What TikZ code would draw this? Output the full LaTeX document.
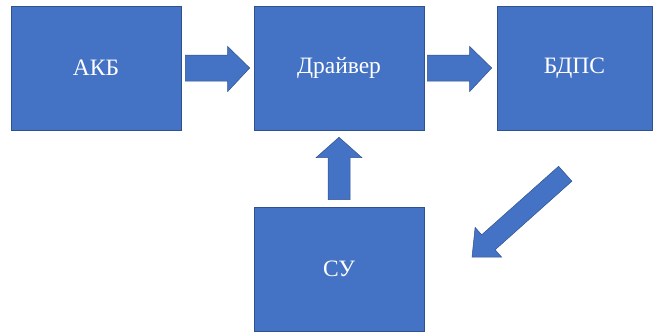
\documentclass[tikz,border=0pt]{standalone}
\usepackage{fontspec}
\setmainfont{Liberation Serif}
\usetikzlibrary{calc}
\definecolor{boxblue}{HTML}{4472C4}
\definecolor{edgeblue}{HTML}{2F528F}
\tikzset{
  blockbox/.style={draw=edgeblue, line width=0.6pt, fill=boxblue, text=white,
    font=\fontsize{23.5}{25}\selectfont, inner sep=0pt},
  blockarrow/.style={draw=edgeblue, line width=0.5pt, fill=boxblue, line join=miter}
}
\begin{document}
\begin{tikzpicture}[x=1pt,y=-1pt]
\useasboundingbox (0,0) rectangle (656,332);
\node[blockbox, minimum width=170pt, minimum height=124pt] (akb) at (96,68) {АКБ};
\node[blockbox, minimum width=170pt, minimum height=124pt] (drv) at (339,68) {Драйвер};
\node[blockbox, minimum width=155pt, minimum height=124pt] (bdps) at (574.5,68) {БДПС};
\node[blockbox, minimum width=170pt, minimum height=124pt] (su) at (339,269) {СУ};
% arrow AKB -> driver
\draw[blockarrow] ($(akb.east)+(4,-13)$) -- ($(drv.west)+(-26,-13)$) -- ($(drv.west)+(-26,-21.5)$)
  -- ($(drv.west)+(-4,0)$) -- ($(drv.west)+(-26,23.5)$) -- ($(drv.west)+(-26,13)$)
  -- ($(akb.east)+(4,13)$) -- cycle;
% arrow driver -> BDPS
\draw[blockarrow] ($(drv.east)+(3,-13)$) -- ($(bdps.west)+(-27,-13)$) -- ($(bdps.west)+(-27,-21.5)$)
  -- ($(bdps.west)+(-5,0)$) -- ($(bdps.west)+(-27,23.5)$) -- ($(bdps.west)+(-27,13)$)
  -- ($(drv.east)+(3,13)$) -- cycle;
% arrow SU -> driver
\draw[blockarrow] ($(su.north)+(-11,-7)$) -- ($(su.north)+(-11,-49)$) -- ($(su.north)+(-23,-49)$)
  -- ($(drv.south)+(0,7)$) -- ($(su.north)+(23,-49)$) -- ($(su.north)+(11,-49)$)
  -- ($(su.north)+(11,-7)$) -- cycle;
% arrow BDPS -> SU (diagonal)
\coordinate (dtip) at (472,257);
\draw[blockarrow] (558.6,166.3) -- (571.9,181.2) -- (495.1,249.8) -- (501.7,257.2)
  -- (dtip) -- (475.1,227.4) -- (481.7,234.8) -- cycle;
\end{tikzpicture}
\end{document}
